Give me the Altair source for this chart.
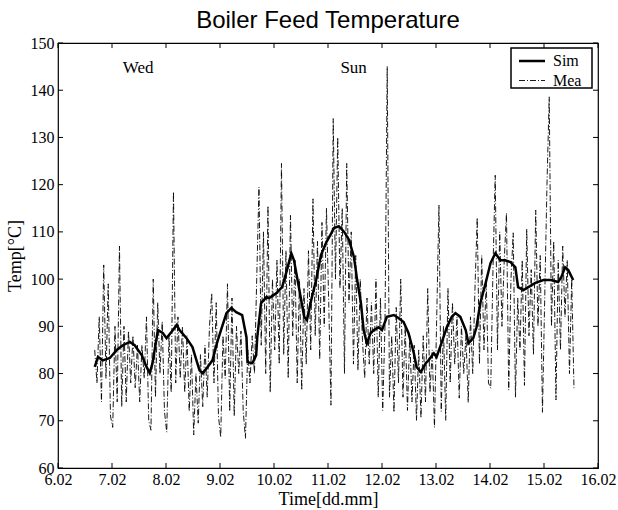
import altair as alt
import pandas as pd

# ---------------- data ----------------
sim_t = [6.68, 6.74, 6.83, 6.96, 7.09, 7.20, 7.33, 7.42, 7.55, 7.64, 7.70, 7.75,
         7.85, 7.94, 8.01, 8.10, 8.20, 8.25, 8.38, 8.49, 8.62, 8.68, 8.77, 8.86,
         8.95, 9.03, 9.12, 9.21, 9.30, 9.41, 9.49, 9.51, 9.60, 9.67, 9.69, 9.76,
         9.86, 9.91, 10.04, 10.15, 10.24, 10.32, 10.37, 10.47, 10.56, 10.61, 10.69,
         10.78, 10.87, 10.96, 11.06, 11.11, 11.20, 11.30, 11.39, 11.48, 11.54,
         11.61, 11.66, 11.72, 11.79, 11.85, 11.94, 12.00, 12.09, 12.22, 12.31,
         12.40, 12.49, 12.59, 12.64, 12.72, 12.81, 12.86, 12.96, 13.01, 13.10,
         13.20, 13.29, 13.36, 13.45, 13.55, 13.60, 13.69, 13.75, 13.82, 13.92,
         14.01, 14.10, 14.19, 14.28, 14.38, 14.47, 14.52, 14.62, 14.71, 14.84,
         14.99, 15.13, 15.26, 15.32, 15.39, 15.45, 15.54]
sim_v = [81.4, 83.5, 82.8, 83.3, 85.0, 86.0, 86.7, 86.0, 83.9, 81.4, 80.1, 82.2,
         89.2, 88.6, 87.5, 88.8, 90.3, 89.2, 87.5, 85.6, 80.7, 80.1, 81.4, 82.8,
         86.7, 89.6, 92.8, 93.9, 93.0, 92.4, 87.7, 82.4, 82.2, 83.9, 87.7, 94.9,
         96.2, 96.0, 97.0, 98.3, 101.9, 105.5, 104.0, 97.7, 92.0, 91.3, 95.6,
         99.8, 105.1, 107.6, 109.7, 110.8, 111.2, 110.0, 108.3, 104.7, 99.8,
         94.9, 89.2, 86.4, 88.6, 89.2, 89.8, 89.2, 92.0, 92.4, 91.7,
         90.9, 88.6, 84.3, 81.4, 80.3, 82.2, 82.8, 84.3, 83.5, 86.4,
         89.8, 92.0, 92.8, 92.0, 89.2, 86.4, 87.5, 89.8, 94.9, 99.2,
         103.4, 105.5, 104.0, 104.0, 103.6, 102.5, 98.3, 97.7, 98.3, 99.2,
         99.8, 99.8, 99.4, 100.4, 102.5, 101.9, 99.8]

# measured series: hourly samples starting at day 6.68
mea_start = 6.68
mea_step = 1.0 / 24.0
mea_v = [85, 78, 92, 74, 103, 79, 99, 71,
         68.6, 90, 74, 107, 73, 90, 74, 89, 78, 88, 77, 86,
         74, 86, 79, 92, 70, 68, 100, 75, 95, 80, 91, 72,
         67.6, 88, 76, 118.5, 78, 92, 79, 90, 76, 88, 72, 84,
         67, 80, 69.5, 84, 73, 86, 75, 90, 97, 78, 95, 71,
         66.5, 88, 79, 99, 72, 96, 71, 90, 80, 89, 72, 66.3,
         85, 78, 88, 80, 100, 119.5, 86, 110, 80, 115.5, 76, 100,
         85, 104, 82, 124.5, 84, 106, 79, 113.5, 88, 104, 78, 100,
         76.5, 98, 82, 106, 85, 117, 88, 108, 83, 112, 90, 115,
         95, 73.3, 134, 100, 130, 98, 115, 80, 124.5, 95, 110, 82,
         105, 80.7, 100, 87, 79, 96, 82, 95, 80, 100, 75, 96,
         72.2, 90, 145, 75, 88, 71.8, 94, 78, 100, 75, 90, 72.2,
         88, 74, 86, 70.1, 85, 70.6, 88, 74, 98, 76, 85, 68.6,
         92, 115.7, 72, 90, 70.1, 98, 78, 95, 82, 92, 74.8, 90,
         80, 88, 73.9, 92, 80, 98, 113, 82, 105, 85, 100, 78,
         76.9, 102, 122, 85, 110, 90, 104, 114, 76.5, 100, 109.8, 75,
         96, 85, 104, 77.5, 110.6, 88, 102, 84, 114.6, 90, 105, 71.8,
         96, 120, 138.6, 90, 108, 74.4, 104, 85, 107, 92, 104, 80, 100, 76.9]

x_ticks = [6, 7, 8, 9, 10, 11, 12, 13, 14, 15, 16]
y_ticks = [60, 70, 80, 90, 100, 110, 120, 130, 140, 150]

note_labels = ["Wed", "Sun"]
note_t = [7.2, 11.23]
note_v = [143.7, 143.7]

legend_names = ["Sim", "Mea"]

# ---------------- tables ----------------
sim_df = pd.DataFrame({"t": sim_t, "v": sim_v})
mea_df = pd.DataFrame({"t": [mea_start + i * mea_step for i in range(len(mea_v))],
                       "v": mea_v})
xt_df = pd.DataFrame({"t": x_ticks})
yt_df = pd.DataFrame({"v": y_ticks})
note_df = pd.DataFrame({"t": note_t, "v": note_v, "label": note_labels})
one_df = pd.DataFrame({"k": [0]})

W, H = 540, 425
SERIF = "Liberation Serif"

xs = alt.Scale(domain=[6, 16], nice=False, zero=False)
ys = alt.Scale(domain=[60, 150], nice=False, zero=False)

x_axis = alt.Axis(values=x_ticks, labelExpr="datum.value + '.02'", ticks=False,
                  tickSize=0, domain=False, grid=False, labelFont=SERIF,
                  labelFontSize=16, labelColor="black", labelPadding=3,
                  labelFlush=False, labelOverlap=False,
                  title="Time[dd.mm]", titleFont=SERIF, titleFontSize=18,
                  titleFontWeight="normal", titleColor="black",
                  titleY=36, titleBaseline="alphabetic")
y_axis = alt.Axis(values=y_ticks, ticks=False, tickSize=0, domain=False,
                  grid=False, labelFont=SERIF, labelFontSize=16,
                  labelColor="black", labelPadding=4, labelFlush=False,
                  labelOverlap=False, title="Temp[°C]", titleFont=SERIF,
                  titleFontSize=18, titleFontWeight="normal",
                  titleColor="black", titlePadding=6)

X = alt.X("t:Q", scale=xs, axis=x_axis)
Y = alt.Y("v:Q", scale=ys, axis=y_axis)

mea = alt.Chart(mea_df).mark_line(color="black", strokeWidth=0.9,
                                  strokeDash=[6, 2, 1, 2]).encode(x=X, y=Y)
sim = alt.Chart(sim_df).mark_line(color="black", strokeWidth=2.5).encode(x=X, y=Y)

tick_b = alt.Chart(xt_df).mark_rule(color="black", strokeWidth=1).encode(
    x=X, y=alt.value(H), y2=alt.value(H - 5))
tick_t = alt.Chart(xt_df).mark_rule(color="black", strokeWidth=1).encode(
    x=X, y=alt.value(0), y2=alt.value(5))
tick_l = alt.Chart(yt_df).mark_rule(color="black", strokeWidth=1).encode(
    y=Y, x=alt.value(0), x2=alt.value(5))
tick_r = alt.Chart(yt_df).mark_rule(color="black", strokeWidth=1).encode(
    y=Y, x=alt.value(W), x2=alt.value(W - 5))

notes = alt.Chart(note_df).mark_text(font=SERIF, fontSize=17, color="black",
                                     align="left", baseline="alphabetic").encode(
    x=X, y=Y, text="label:N")

# legend box (drawn by hand, as in the original)
leg_box = alt.Chart(one_df).mark_rect(fill="white", stroke="black",
                                       strokeWidth=1.5).encode(
    x=alt.value(453), x2=alt.value(534), y=alt.value(5), y2=alt.value(45))
leg_sim = alt.Chart(one_df).mark_rule(color="black", strokeWidth=2.5).encode(
    x=alt.value(461), x2=alt.value(487), y=alt.value(18))
leg_mea = alt.Chart(one_df).mark_rule(color="black", strokeWidth=0.9,
                                       strokeDash=[6, 2, 1, 2]).encode(
    x=alt.value(461), x2=alt.value(487), y=alt.value(37.5))
leg_txt1 = alt.Chart(one_df).mark_text(font=SERIF, fontSize=16, color="black",
                                        align="left", baseline="middle",
                                        text=legend_names[0]).encode(
    x=alt.value(495), y=alt.value(18))
leg_txt2 = alt.Chart(one_df).mark_text(font=SERIF, fontSize=16, color="black",
                                        align="left", baseline="middle",
                                        text=legend_names[1]).encode(
    x=alt.value(495), y=alt.value(37.5))

chart = alt.layer(
    mea, sim, tick_b, tick_t, tick_l, tick_r, notes,
    leg_box, leg_sim, leg_mea, leg_txt1, leg_txt2
).properties(
    width=W, height=H,
    title=alt.TitleParams("Boiler Feed Temperature", font="Liberation Sans",
                          fontSize=24, fontWeight="normal", color="black",
                          anchor="middle", offset=2),
    autosize=alt.AutoSizeParams(type="none"),
    padding={"left": 58, "top": 43, "right": 20, "bottom": 42},
    background="white",
).configure_view(stroke="black", strokeWidth=1.2)

chart.save("out.html", embed_options={"renderer": "svg", "actions": False})
